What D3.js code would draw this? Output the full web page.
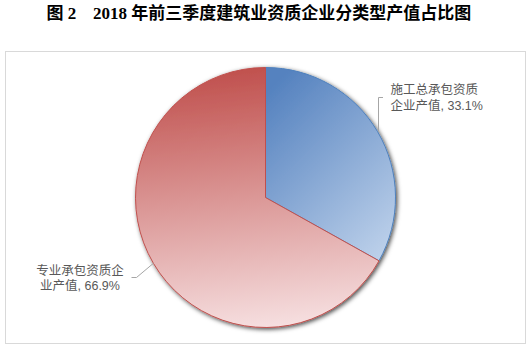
<!DOCTYPE html>
<html>
<head>
<meta charset="utf-8">
<script src="https://cdn.jsdelivr.net/npm/d3@7/dist/d3.min.js"></script>
<style>
  html, body { margin: 0; padding: 0; background: #fff; }
  svg { display: block; }
</style>
</head>
<body>
<svg id="chart" width="532" height="351"></svg>
<script>
// Output value share by qualification type, Q1–Q3 2018
const categories = ["施工总承包资质企业产值", "专业承包资质企业产值"];
const shares = [33.1, 66.9];
// Label text broken into lines as displayed beside each slice
const labelLines = [["施工总承包资质", "企业产值"], ["专业承包资质企", "业产值"]];
const titleParts = ["图 2", "2018 年前三季度建筑业资质企业分类型产值占比图"];

const svg = d3.select("#chart");
const width = 532, height = 351;
const cx = 265.5, cy = 197.5, radius = 130;

svg.append("rect").attr("width", width).attr("height", height).attr("fill", "#fff");

const defs = svg.append("defs");

// soft shadow behind the pie
const shadow = defs.append("filter").attr("id", "pieShadow")
  .attr("x", "-20%").attr("y", "-20%").attr("width", "140%").attr("height", "140%");
shadow.append("feDropShadow")
  .attr("dx", 1.5).attr("dy", 1.5).attr("stdDeviation", 2.2)
  .attr("flood-color", "#000").attr("flood-opacity", 0.7);

// slice fills: saturated at top, fading lighter toward the bottom
const fills = [
  { id: "gradBlue", x1: 0.2, y1: 0, x2: 0.85, y2: 1,
    stops: [["0%", "#5582bf"], ["100%", "#bcd0ea"]], stroke: "#4f81bd" },
  { id: "gradRed", x1: 0.45, y1: 0, x2: 0.55, y2: 1,
    stops: [["0%", "#c0504d"], ["100%", "#f6dfe0"]], stroke: "#c0504d" }
];
fills.forEach(f => {
  const g = defs.append("linearGradient").attr("id", f.id)
    .attr("x1", f.x1).attr("y1", f.y1).attr("x2", f.x2).attr("y2", f.y2);
  f.stops.forEach(([o, c]) => g.append("stop").attr("offset", o).attr("stop-color", c));
});

// chart frame
svg.append("rect")
  .attr("x", 5.5).attr("y", 51.5).attr("width", 520).attr("height", 292)
  .attr("fill", "none").attr("stroke", "#d9d9d9").attr("stroke-width", 1);

// title
const title = svg.append("text")
  .attr("y", 19)
  .attr("font-family", "'Liberation Serif', 'Noto Sans CJK SC', serif")
  .attr("font-weight", "bold")
  .attr("font-size", 17)
  .attr("fill", "#000");
title.append("tspan").attr("x", 46.5).text(titleParts[0]);
title.append("tspan").attr("x", 93).text(titleParts[1]);

const pie = d3.pie().sort(null).value(d => d);
const arcs = pie(shares);
const arc = d3.arc().innerRadius(0).outerRadius(radius);

const g = svg.append("g").attr("transform", `translate(${cx},${cy})`);

g.append("g").attr("filter", "url(#pieShadow)")
  .selectAll("path").data(arcs).join("path")
  .attr("d", arc)
  .attr("fill", (d, i) => `url(#${fills[i].id})`)
  .attr("stroke", (d, i) => fills[i].stroke)
  .attr("stroke-width", 1)
  .attr("stroke-linejoin", "round");

// leader lines from the outer edge at each slice's mid angle
const edgePoint = d => {
  const a = (d.startAngle + d.endAngle) / 2;
  return [cx + radius * Math.sin(a), cy - radius * Math.cos(a)];
};

const labelFont = "'Liberation Sans', 'Noto Sans CJK SC', sans-serif";
const leaderColor = "#a6a6a6";

function addLabel(lines, x, y0, lineGap, anchor) {
  lines.forEach((s, k) => {
    svg.append("text")
      .attr("x", x).attr("y", y0 + k * lineGap)
      .attr("font-family", labelFont).attr("font-size", 12.5)
      .attr("fill", "#595959").attr("text-anchor", anchor)
      .text(s);
  });
}

// right label (first slice)
{
  const [px, py] = edgePoint(arcs[0]);
  const lx = Math.round(px) + 0.5;
  svg.append("path")
    .attr("d", `M${lx},${py} L${lx},97.5 L${lx + 4.5},97.5`)
    .attr("fill", "none").attr("stroke", leaderColor).attr("stroke-width", 1);
  addLabel([labelLines[0][0], `${labelLines[0][1]}, ${shares[0].toFixed(1)}%`],
    390.5, 94, 15.5, "start");
}

// left label (second slice)
{
  const [px, py] = edgePoint(arcs[1]);
  svg.append("path")
    .attr("d", `M${px},${py} L136.5,277.5 L131.5,277.5`)
    .attr("fill", "none").attr("stroke", leaderColor).attr("stroke-width", 1);
  addLabel([labelLines[1][0], `${labelLines[1][1]}, ${shares[1].toFixed(1)}%`],
    80, 274.5, 15.5, "middle");
}
</script>
</body>
</html>
